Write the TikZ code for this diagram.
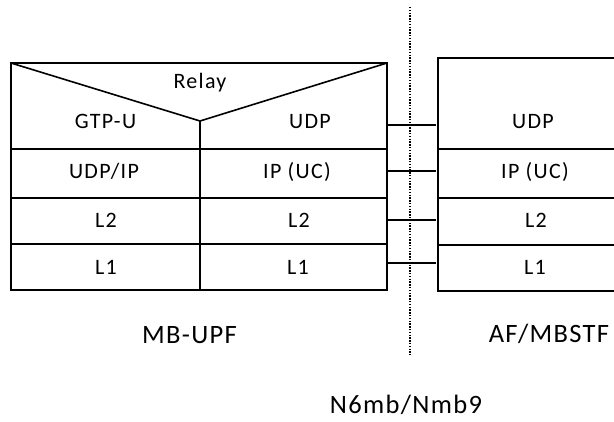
\documentclass[tikz,border=0pt]{standalone}
\usepackage{fontspec}
\setmainfont{Carlito}[LetterSpace=6]
\newfontfamily\lblfont{Carlito}[LetterSpace=5]
\begin{document}
\begin{tikzpicture}[x=1pt,y=-1pt,
  frame/.style={line width=1.6pt, line join=miter},
  link/.style={line width=1.6pt},
  cellText/.style={anchor=base, inner sep=0pt, font=\fontsize{22}{26}\selectfont},
  nameText/.style={anchor=base, inner sep=0pt, font=\lblfont\fontsize{26.5}{30}\selectfont},
  divider/.style={line width=1.3pt, dash pattern=on 1.4pt off 1.4pt}]
\clip (0,0) rectangle (614,421);
% left stack (MB-UPF)
\draw[frame] (11,63) rectangle (387,290);
\draw[frame] (11,63) -- (200,121) -- (387,63);
\draw[frame] (200,121) -- (200,290);
\draw[frame] (11,149) -- (387,149);
\draw[frame] (11,198) -- (387,198);
\draw[frame] (11,244) -- (387,244);
% right stack (AF/MBSTF)
\draw[frame] (640,58) -- (438,58) -- (438,291) -- (640,291);
\draw[frame] (438,149) -- (640,149);
\draw[frame] (438,198) -- (640,198);
\draw[frame] (438,245) -- (640,245);
% texts
\node[cellText] (relay) at (200,88) {Relay};
\node[cellText] (gtpu) at (105.5,128) {GTP-U};
\node[cellText] (ludp) at (310,128) {UDP};
\node[cellText] (udpip) at (104,178) {UDP/IP};
\node[cellText] (lip) at (297,178) {IP (UC)};
\node[cellText] (ll2a) at (106,227) {L2};
\node[cellText] (ll2b) at (299,227) {L2};
\node[cellText] (ll1a) at (106,274) {L1};
\node[cellText] (ll1b) at (298,274) {L1};
\node[cellText] (rudp) at (533,128) {UDP};
\node[cellText] (rip) at (535,178) {IP (UC)};
\node[cellText] (rl2) at (536,227) {L2};
\node[cellText] (rl1) at (535,274) {L1};
\node[nameText] (mbupf) at (189.5,343) {MB-UPF};
\node[nameText] (afmbstf) at (549,342) {AF/MBSTF};
\node[nameText] (n6mb) at (406,413) {N6mb/Nmb9};
% connectors
\coordinate (a1) at (387,125); \coordinate (b1) at (436,125);
\coordinate (a2) at (387,171); \coordinate (b2) at (436,171);
\coordinate (a3) at (387,220); \coordinate (b3) at (436,220);
\coordinate (a4) at (387,263); \coordinate (b4) at (436,263);
\draw[link] (a1) -- (b1);
\draw[link] (a2) -- (b2);
\draw[link] (a3) -- (b3);
\draw[link] (a4) -- (b4);
% reference point divider
\coordinate (dtop) at (410,7);
\coordinate (dbot) at (410,355);
\draw[divider] (dtop) -- (dbot);
\end{tikzpicture}
\end{document}
